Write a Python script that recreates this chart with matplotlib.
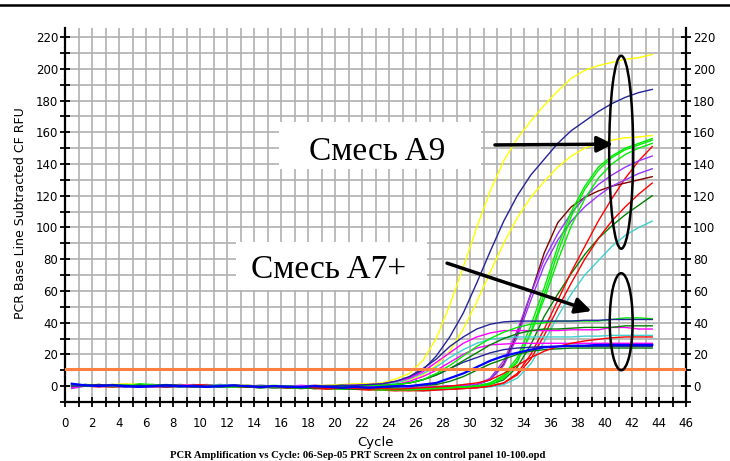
import numpy as np
import matplotlib
matplotlib.use("Agg")
import matplotlib.pyplot as plt
from matplotlib.patches import Ellipse, Rectangle
from matplotlib.ticker import MultipleLocator

# PCR amplification curves, RFU per cycle (cycles 1..44)
cycles = np.arange(1, 45)
threshold = 11

yellow_1 = [1.0, 0.5, 0.0, 1.0, 1.5, 1.0, 0.0, 0.5, 1.0, 0.5, 0.0, 0.5, 1.0, 0.5, 0.0, -0.5, 0.0, 0.0, 0.5, 0.5,
            1, 1.5, 1.5, 2, 4.5, 8, 16, 30, 51, 75, 100, 123, 142, 156, 167, 177, 186, 194, 199, 202, 204, 206, 207, 209]
navy_1 = [0.5, 1, 0.5, 0, 0.5, 1, 0.5, 0, 0, 0.5, 0, -0.5, 0, 0.5, 0, 0, -0.5, 0, 0, 0.5,
          0.5, 0.5, 1, 1.5, 3, 5.5, 10, 19, 31, 46, 65, 85, 104, 120, 133, 143, 153, 161, 167, 173, 178, 182, 185, 187]
yellow_2 = [0, 1, 1, 0.5, 0, 0.5, 1, 0, 0.5, 0, 0.5, 1, 0, -0.5, 0, 0.5, 0, -0.5, 0, 0,
            0, 0.5, 0.5, 0.5, 2, 4, 7, 13, 22, 36, 53, 72, 90, 106, 119, 129, 138, 145, 150, 153, 155, 156.5, 157, 158]

purple_1 = [-1.5, 0, 0.5, 0, -0.5, 0.5, 1, 0.5, 0, -0.5, 0, 0.5, 0, -0.5, -1, -0.5, 0, -0.5, -1, -1,
            -1.5, -1, -1.5, -1, -1.5, -1, -0.5, -0.5, 0, 0.5,
            1, 5, 16, 35, 58, 80, 96, 109, 119, 127, 133, 138, 142, 145]
purple_2 = [1, 0.5, 0, 0.5, 1, 0, -0.5, 0, 0.5, 0, -0.5, 0, 0.5, 0, -0.5, -1, -0.5, -1, -1.5, -1,
            -1, -1.5, -2, -1.5, -1, -1.5, -1, -0.5, 0, 0,
            1, 4, 13, 31, 54, 76, 92, 104, 113, 120, 126, 130, 134, 137]
green_1 = [0.5, 1, 0.5, 0, 0.5, 1.5, 1, 0, -0.5, 0, 0.5, 0, -0.5, 0, 0.5, 0, -1, -0.5, -1, -1.5,
           -1, -2, -1.5, -2, -2.5, -2, -1.5, -1.5, -1, -0.5,
           0, 2, 7, 18, 38, 62, 88, 110, 126, 138, 145, 150, 153, 156]
green_2 = [0, 0.5, 1, 0.5, 0, -0.5, 0, 0.5, 1, 0.5, 0, -0.5, 0, -0.5, -1, -0.5, -1, -1.5, -1, -1.5,
           -2, -1.5, -2, -2.5, -2, -2.5, -2, -1.5, -1, -0.5,
           0, 1, 5, 15, 34, 58, 84, 107, 124, 136, 144, 149, 152, 155]
green_3 = [1.5, 0.5, 0, 0.5, 0, 0.5, 1, 0.5, 0, 0.5, 0, -0.5, -0.5, 0, -0.5, -1, -0.5, -1, -1.5, -1,
           -1.5, -1, -1.5, -2, -1.5, -2, -1.5, -1, -0.5, -0.5,
           0, 2, 6, 16, 33, 55, 79, 101, 118, 131, 140, 146, 150, 153]
brown_1 = [0, 0.5, 0, 0.5, 1, 0.5, 0, -0.5, 0, 0.5, 0, 0, -0.5, 0, -0.5, -1, -0.5, -1, -1, -1.5,
           -1, -1.5, -1, -1.5, -2, -1.5, -1, -0.5, 0, 0,
           1, 4, 14, 33, 58, 84, 103, 113, 119, 123, 126, 128, 130, 132]
red_1 = [0.5, 0, -0.5, 0, 0.5, 0, -0.5, 0, 0.5, 1, 0.5, 0, -0.5, -0.5, 0, -0.5, -1, -1.5, -1, -1.5,
         -2, -1.5, -2, -2.5, -3, -2.5, -3, -2.5, -2, -1.5, -1,
         0, 2, 8, 20, 36, 54, 72, 88, 104, 118, 131, 142, 151]
red_2 = [1, 0.5, 1, 0.5, 0, -0.5, 0, 0.5, 0, -0.5, 0, 0.5, 0, -0.5, -1, -0.5, -1, -1, -1.5, -2,
         -1.5, -2, -2.5, -2, -2.5, -3, -2.5, -2, -2, -1.5, -1,
         0, 2, 7, 17, 32, 49, 65, 80, 93, 104, 113, 121, 128]
dkgreen_1 = [0, 0.5, 0, -0.5, 0, 0.5, 0, 0.5, 0, -0.5, -0.5, 0, 0.5, 0, -0.5, -1, -1, -0.5, -1, -1.5,
             -1, -1.5, -2, -1.5, -2, -2, -1.5, -1, -0.5, 0, 0,
             1, 4, 12, 26, 44, 58, 71, 83, 93, 101, 108, 114, 120]
cyan_1 = [0.5, 1, 0.5, 0, 0.5, 0, -0.5, 0, 0.5, 0, 0, -0.5, 0, 0.5, 0, -0.5, -1, -0.5, -1, -1.5,
          -1, -1.5, -2, -2.5, -2, -2.5, -3, -2.5, -2, -1.5, -1, -0.5,
          1, 5, 14, 28, 44, 58, 70, 79, 88, 95, 100, 104]

navy_2 = [0, 0.5, 1, 0.5, 0, 0.5, 0, -0.5, 0, 0.5, 0, 0, 0.5, 0, -0.5, 0, 0, -0.5, 0, 0, 0.5, 0.5,
          1, 1.5, 3, 6, 11, 17, 25, 31, 36, 39, 40.5, 41, 41, 41, 41, 41, 41.5, 41.5, 42, 42, 42, 42]
green_4 = [0, 1, 0.5, 0, 0.5, 1, 0.5, 0, 0.5, 0, -0.5, 0, 0.5, 0, 0, -0.5, 0, -0.5, 0, 0, 0.5, 0, 0.5, 0.5,
           1, 2, 4, 8, 13, 19, 25, 30, 34, 37, 39, 40, 41, 41, 41, 41, 42, 43, 43, 42.5]
dkgreen_2 = [0.5, 0, 0.5, 1, 0.5, 0, 0.5, 1, 0.5, 0, 0, 0.5, 0, -0.5, 0, 0, -0.5, -0.5, 0, -0.5, 0, 0, 0.5, 0.5,
             1, 2, 4, 7, 11, 16, 21, 26, 30, 33, 35, 36, 36, 36.5, 37, 37, 37, 38, 38, 38]
magenta_1 = [-1, 0.5, 0, 0.5, 0, 0.5, 0, 0.5, 1, 0.5, 0, 0.5, 0, 0, 0.5, 0, -0.5, 0, 0.5, 0, 0.5, 0.5, 1,
             1.5, 3, 5, 9, 15, 21, 27, 31, 33.5, 35, 35, 35, 35, 35, 35.5, 35.5, 35.5, 37, 37, 36, 36]
cyan_2 = [0.5, 0, 0.5, 1, 0.5, 0, 0.5, 0, 0.5, 0, 0.5, 1, 0.5, 0, 0, 0.5, 0, 0, 0.5, 0, 0, 0.5, 0.5,
          1, 2, 4.5, 8, 12, 18, 23, 27, 29.5, 30.5, 31, 31, 31, 31, 31, 31.5, 31.5, 32, 32, 32, 32]
magenta_2 = [0, 0.5, 0, 0.5, 0, -0.5, 0, 0.5, 0, 0, 0.5, 1, 0.5, 0, -0.5, 0, 0, 0.5, 0, -0.5, 0, 0, 0, 0.5,
             1, 3, 6, 10, 15, 20, 24, 26, 26.5, 27, 27, 27, 27, 27, 27, 27, 27, 27, 27, 27]
red_3 = [0, 0.5, 0, -0.5, 0, 0.5, 0, -0.5, 0, 0.5, 1, 0.5, 0, -0.5, 0, -0.5, -1, -0.5, -1, -1.5,
         -1, -1.5, -2, -1.5, -2, -1.5, -1, -0.5,
         0, 1, 2, 4, 8, 13, 18, 22, 25, 27, 28.5, 29.5, 30.5, 31, 31, 31]
blue_1 = [1.5, 0.5, 0, 0.5, 0, -0.5, 0, 0.5, 0, 0, -0.5, 0, 0.5, 0, -0.5, 0, -0.5, -0.5, 0, -0.5,
          -1, -0.5, -1, -0.5, 0, 0,
          1, 2, 5, 8, 12, 16, 19, 21, 23, 24.5, 25, 25.5, 25.5, 26, 26, 26, 26, 26]
navy_3 = [0.5, 0, 0.5, 0, -0.5, 0, 0.5, 0, -0.5, 0, 0.5, 0, 0, -0.5, 0, 0, -0.5, -1, -0.5, -1, -0.5, -0.5, 0, 0.5,
          1, 2, 4, 7, 11, 15, 18, 21, 23, 24, 24.5, 25, 25, 25, 25, 25, 25, 25, 25, 25]
dkgreen_3 = [0, 0.5, 0, 0.5, 0, -0.5, 0, 0.5, 0, -0.5, 0, 0.5, 0, -0.5, -1, -0.5, -1, -1, -1.5, -1,
             -1.5, -2, -1.5, -1, -0.5, 0, 0.5,
             1, 3, 6, 10, 14, 17, 20, 22, 23, 23.5, 24, 24, 24, 24, 24, 24, 24]

YELLOW, NAVY, GREEN, DKGREEN = "#ffff00", "#24249a", "#00ee00", "#008000"
PURPLE, BROWN, RED, CYAN = "#9933ff", "#800000", "#ff0000", "#40d0d0"
MAGENTA, BLUE = "#ff00ff", "#0000ff"

curves = [
    (cyan_1, CYAN), (dkgreen_1, DKGREEN), (red_2, RED), (red_1, RED),
    (brown_1, BROWN), (purple_2, PURPLE), (purple_1, PURPLE),
    (green_3, GREEN), (green_2, GREEN), (green_1, GREEN),
    (yellow_2, YELLOW), (navy_1, NAVY), (yellow_1, YELLOW),
    (dkgreen_3, DKGREEN), (navy_3, NAVY), (magenta_2, MAGENTA), (red_3, RED),
    (cyan_2, CYAN), (magenta_1, MAGENTA), (dkgreen_2, DKGREEN),
    (green_4, GREEN), (navy_2, NAVY), (blue_1, BLUE),
]

fig = plt.figure(figsize=(7.3, 4.61), dpi=100)
ax = fig.add_axes([65 / 730, 59 / 461, 621 / 730, 374 / 461])

for vals, col in curves:
    lw = 1.6 if col == BLUE else 1.0
    ax.plot(cycles - 0.5, vals, color=col, lw=lw, zorder=3)

ax.axhline(threshold, color="#ff8040", lw=2.2, zorder=4)

ax.set_xlim(0, 46)
ax.set_ylim(-10, 225.7)
ax.xaxis.set_major_locator(MultipleLocator(2))
ax.xaxis.set_minor_locator(MultipleLocator(1))
ax.yaxis.set_major_locator(MultipleLocator(20))
ax.yaxis.set_minor_locator(MultipleLocator(10))
ax.grid(which="both", color="#b0b0b0", lw=1.2, zorder=0)
ax.set_axisbelow(True)

for s in ["left", "right", "bottom"]:
    ax.spines[s].set_linewidth(1.6)
    ax.spines[s].set_color("black")
ax.spines["top"].set_visible(False)

ax.tick_params(which="both", direction="inout", length=7, width=1.3, colors="black",
               labelsize=8.5, right=True, labelright=True)
ax.tick_params(axis="y", pad=1.5)
ax.tick_params(axis="x", pad=7)

# annotations
ax.add_patch(Rectangle((15.85, 137.0), 15.0, 29.5, facecolor="white", edgecolor="none", zorder=5))
ax.text(23.1, 142.8, "Смесь A9", fontsize=24, family="Liberation Serif", ha="center", va="baseline", zorder=6)
ax.add_patch(Rectangle((12.67, 60.5), 14.13, 30.2, facecolor="white", edgecolor="none", zorder=5))
ax.text(19.55, 67.9, "Смесь A7+", fontsize=24, family="Liberation Serif", ha="center", va="baseline", zorder=6)

arrow = dict(arrowstyle="-|>", lw=2.5, color="black", mutation_scale=24, shrinkA=0, shrinkB=0)
ax.annotate("", xy=(40.6, 152.5), xytext=(31.85, 152.0), arrowprops=arrow, zorder=7)
ax.annotate("", xy=(39.0, 47.3), xytext=(28.3, 77.5), arrowprops=arrow, zorder=7)

ax.add_patch(Ellipse((41.2, 147.4), 1.78, 121.6, fill=False, lw=1.8, ec="black", zorder=7))
ax.add_patch(Ellipse((41.2, 40.6), 1.70, 61.1, fill=False, lw=1.8, ec="black", zorder=7))

fig.text(21 / 730, 1 - 213 / 461, "PCR Base Line Subtracted CF RFU", rotation=90,
         fontsize=9, ha="center", va="center")
fig.text(375 / 730, 1 - 446 / 461, "Cycle", fontsize=9.5, ha="center", va="baseline")
fig.text(358 / 730, 1 - 458 / 461,
         "PCR Amplification vs Cycle: 06-Sep-05 PRT Screen 2x on control panel 10-100.opd",
         fontsize=7.7, family="Liberation Serif", weight="bold", ha="center", va="baseline")

fig.add_artist(plt.Line2D([0, 1], [1 - 5.5 / 461] * 2, color="black", lw=1.8,
                          transform=fig.transFigure))

fig.savefig("out.png", dpi=100)
